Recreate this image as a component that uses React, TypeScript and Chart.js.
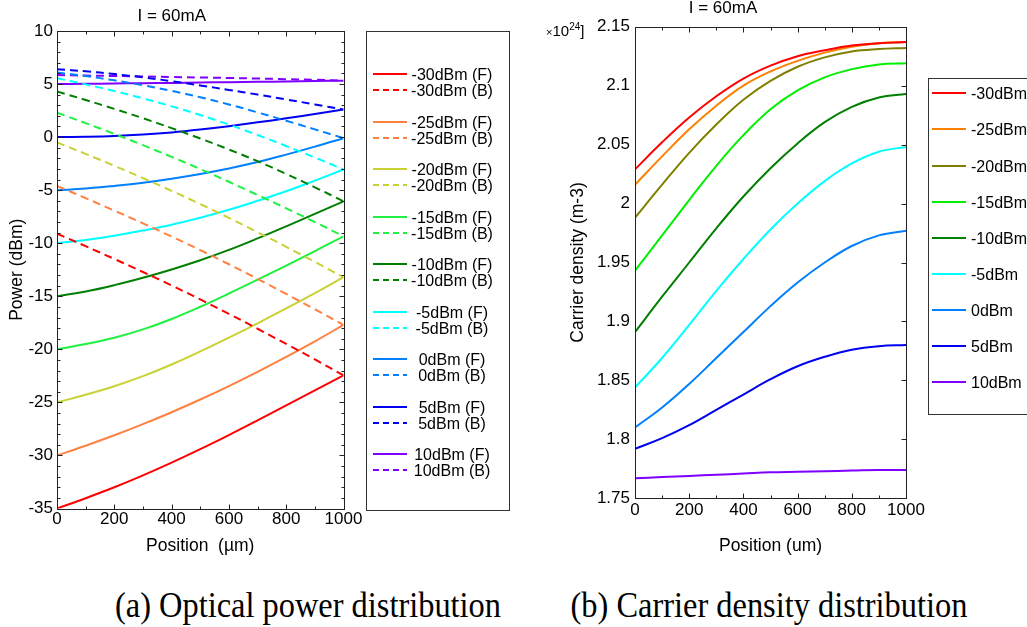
import React, { useEffect, useRef } from 'react';
import { Chart, registerables } from 'chart.js';

Chart.register(...registerables);

const FONT = "'Liberation Sans', Arial, Helvetica, sans-serif";

// Position along the device (µm)
const positions = [0, 100, 200, 300, 400, 500, 600, 700, 800, 900, 1000];

// Input power levels
const powerLabels = ['-30dBm', '-25dBm', '-20dBm', '-15dBm', '-10dBm', '-5dBm', '0dBm', '5dBm', '10dBm'];

// (a) Forward optical power (dBm)
const fwdM30 = [-35.0, -34.03, -33.0, -31.88, -30.68, -29.41, -28.08, -26.7, -25.29, -23.87, -22.45];
const fwdM25 = [-30.0, -29.08, -28.1, -27.05, -25.93, -24.73, -23.46, -22.12, -20.72, -19.25, -17.7];
const fwdM20 = [-25.0, -24.28, -23.48, -22.53, -21.43, -20.2, -18.9, -17.55, -16.15, -14.7, -13.2];
const fwdM15 = [-20.0, -19.5, -18.9, -18.12, -17.14, -15.99, -14.74, -13.44, -12.11, -10.74, -9.35];
const fwdM10 = [-15.0, -14.55, -13.95, -13.25, -12.47, -11.6, -10.63, -9.55, -8.41, -7.23, -6.05];
const fwdM5 = [-10.0, -9.7, -9.3, -8.8, -8.25, -7.6, -6.85, -6.0, -5.1, -4.1, -3.05];
const fwd0 = [-5.0, -4.85, -4.6, -4.3, -3.92, -3.47, -2.95, -2.35, -1.65, -0.9, -0.1];
const fwd5 = [0.0, 0.03, 0.1, 0.24, 0.44, 0.71, 1.03, 1.39, 1.77, 2.18, 2.6];
const fwd10 = [5.0, 5.02, 5.05, 5.08, 5.11, 5.14, 5.18, 5.21, 5.24, 5.28, 5.32];

// (a) Backward optical power (dBm)
const bwdM30 = [-9.1, -10.28, -11.48, -12.71, -13.98, -15.3, -16.66, -18.06, -19.49, -20.95, -22.45];
const bwdM25 = [-4.6, -5.75, -6.93, -8.13, -9.37, -10.65, -11.98, -13.36, -14.78, -16.22, -17.7];
const bwdM20 = [-0.5, -1.58, -2.7, -3.86, -5.06, -6.31, -7.61, -8.96, -10.34, -11.76, -13.2];
const bwdM15 = [2.3, 1.32, 0.3, -0.76, -1.86, -3.01, -4.21, -5.45, -6.71, -8.01, -9.35];
const bwdM10 = [4.3, 3.5, 2.66, 1.78, 0.85, -0.13, -1.17, -2.27, -3.47, -4.73, -6.05];
const bwdM5 = [5.55, 4.97, 4.34, 3.65, 2.9, 2.08, 1.18, 0.2, -0.84, -1.92, -3.05];
const bwd0 = [6.1, 5.75, 5.35, 4.89, 4.36, 3.76, 3.08, 2.33, 1.54, 0.73, -0.1];
const bwd5 = [6.4, 6.2, 5.94, 5.63, 5.27, 4.87, 4.45, 4.01, 3.55, 3.08, 2.6];
const bwd10 = [5.85, 5.8, 5.76, 5.72, 5.67, 5.62, 5.57, 5.52, 5.46, 5.4, 5.32];

// (b) Carrier density (x1e24 m-3)
const carM30 = [2.029, 2.052, 2.073, 2.091, 2.106, 2.117, 2.125, 2.130, 2.134, 2.136, 2.137];
const carM25 = [2.016, 2.040, 2.063, 2.083, 2.100, 2.112, 2.121, 2.128, 2.133, 2.136, 2.137];
const carM20 = [1.988, 2.016, 2.043, 2.067, 2.088, 2.104, 2.116, 2.124, 2.129, 2.131, 2.132];
const carM15 = [1.943, 1.973, 2.003, 2.032, 2.058, 2.080, 2.096, 2.107, 2.114, 2.118, 2.119];
const carM10 = [1.891, 1.921, 1.950, 1.979, 2.006, 2.030, 2.051, 2.069, 2.082, 2.090, 2.093];
const carM5 = [1.844, 1.869, 1.897, 1.926, 1.953, 1.978, 2.000, 2.019, 2.034, 2.044, 2.048];
const car0 = [1.810, 1.827, 1.847, 1.869, 1.891, 1.913, 1.933, 1.950, 1.964, 1.973, 1.977];
const car5 = [1.792, 1.801, 1.812, 1.825, 1.838, 1.851, 1.862, 1.870, 1.876, 1.879, 1.880];
const car10 = [1.767, 1.768, 1.769, 1.770, 1.771, 1.772, 1.7725, 1.773, 1.7735, 1.774, 1.774];

const forwardSeries = [fwdM30, fwdM25, fwdM20, fwdM15, fwdM10, fwdM5, fwd0, fwd5, fwd10];
const backwardSeries = [bwdM30, bwdM25, bwdM20, bwdM15, bwdM10, bwdM5, bwd0, bwd5, bwd10];
const carrierSeries = [carM30, carM25, carM20, carM15, carM10, carM5, car0, car5, car10];

const leftColors = ['#ff0000', '#ff8040', '#c8d232', '#20f040', '#007f00', '#00ffff', '#0080ff', '#0000f0', '#8000ff'];
const rightColors = ['#ff0000', '#ff8000', '#808000', '#00f000', '#007f00', '#00ffff', '#0080ff', '#0000f0', '#8000ff'];

const DASH = [8, 5];

const toPoints = (vals: number[]) => positions.map((x, i) => ({ x, y: vals[i] }));

const frameTicks = {
  id: 'frameTicks',
  afterDatasetsDraw(chart: any, _args: any, opts: any) {
    const { ctx, chartArea } = chart;
    const left = Math.round(chartArea.left) + 0.5;
    const right = Math.round(chartArea.right) + 0.5;
    const top = Math.round(chartArea.top) + 0.5;
    const bottom = Math.round(chartArea.bottom) + 0.5;
    const xs = chart.scales.x;
    const ys = chart.scales.y;
    ctx.save();
    ctx.strokeStyle = opts.color || '#222';
    ctx.lineWidth = 1;
    ctx.beginPath();
    for (const t of xs.ticks) {
      const major = t.label !== '' && t.label !== undefined;
      const len = major ? opts.major : opts.minor;
      const px = Math.round(xs.getPixelForValue(t.value)) + 0.5;
      ctx.moveTo(px, bottom);
      ctx.lineTo(px, bottom - len);
      if (opts.xTop) {
        ctx.moveTo(px, top);
        ctx.lineTo(px, top + len);
      }
    }
    for (const t of ys.ticks) {
      const major = t.label !== '' && t.label !== undefined;
      const len = major ? opts.major : opts.minor;
      const py = Math.round(ys.getPixelForValue(t.value)) + 0.5;
      if (opts.yLeft) {
        ctx.moveTo(left, py);
        ctx.lineTo(left + len, py);
      }
      if (opts.yRight) {
        ctx.moveTo(right, py);
        ctx.lineTo(right - len, py);
      }
    }
    ctx.stroke();
    ctx.strokeRect(left, top, right - left, bottom - top);
    ctx.restore();
  },
};

const legendRowStyle = (top: number, left: number, width: number, align: 'left' | 'center') => ({
  position: 'absolute' as const,
  top,
  left,
  width,
  height: 18,
  lineHeight: '18px',
  fontSize: 16,
  textAlign: align,
  whiteSpace: 'nowrap' as const,
  color: '#000',
});

function Sample({ x, y, color, dashed }: { x: number; y: number; color: string; dashed: boolean }) {
  return (
    <svg style={{ position: 'absolute', left: x, top: y - 3, overflow: 'visible' }} width={34} height={6}>
      <line x1={0} y1={3} x2={34} y2={3} stroke={color} strokeWidth={2} strokeDasharray={dashed ? '6 4' : undefined} />
    </svg>
  );
}

const captionStyle = (left: number) => ({
  position: 'absolute' as const,
  left,
  top: 584,
  width: 500,
  textAlign: 'center' as const,
  fontFamily: "'Liberation Serif', 'Times New Roman', serif",
  fontSize: 36,
  lineHeight: '42px',
  color: '#000',
  whiteSpace: 'nowrap' as const,
  transform: 'scaleX(0.9)',
  transformOrigin: '50% 50%',
});

export default function App() {
  const leftRef = useRef<HTMLCanvasElement>(null);
  const rightRef = useRef<HTMLCanvasElement>(null);

  useEffect(() => {
    Chart.defaults.font.family = FONT;
    Chart.defaults.color = '#000';

    const leftDatasets: any[] = [];
    powerLabels.forEach((p, i) => {
      leftDatasets.push({
        label: `${p} (F)`,
        data: toPoints(forwardSeries[i]),
        borderColor: leftColors[i],
        backgroundColor: leftColors[i],
        borderWidth: 2,
        pointRadius: 0,
        tension: 0.4,
      });
      leftDatasets.push({
        label: `${p} (B)`,
        data: toPoints(backwardSeries[i]),
        borderColor: leftColors[i],
        backgroundColor: leftColors[i],
        borderWidth: 2,
        borderDash: DASH,
        pointRadius: 0,
        tension: 0.4,
      });
    });

    const c1 = new Chart(leftRef.current!, {
      type: 'line',
      data: { datasets: leftDatasets },
      plugins: [frameTicks],
      options: {
        animation: false,
        responsive: false,
        devicePixelRatio: 1,
        layout: { padding: { left: 0, right: 44.5, top: 0, bottom: 0 } },
        plugins: {
          legend: { display: false },
          tooltip: { enabled: false },
          title: {
            display: true,
            text: 'I = 60mA',
            color: '#000',
            font: { size: 17, weight: 'normal' },
            padding: { top: 6.5, bottom: 4.1 },
          },
          frameTicks: { color: '#222', major: 5, minor: 3, xTop: true, yLeft: true, yRight: true },
        } as any,
        scales: {
          x: {
            type: 'linear',
            min: 0,
            max: 1000,
            grid: { display: false, drawTicks: false },
            border: { display: false },
            ticks: {
              stepSize: 100,
              autoSkip: false,
              maxRotation: 0,
              padding: 1,
              font: { size: 17 },
              callback: (v: any) => (Number(v) % 200 === 0 ? String(v) : ''),
            },
            title: { display: true, text: 'Position  (µm)', font: { size: 17.5 }, padding: { top: 0, bottom: 3.5 } },
            afterFit: (s: any) => {
              s.height = 51.5;
            },
          },
          y: {
            min: -35,
            max: 10,
            grid: { display: false, drawTicks: false },
            border: { display: false },
            ticks: {
              stepSize: 1,
              autoSkip: false,
              padding: 4,
              font: { size: 17 },
              callback: (v: any) => (Number(v) % 5 === 0 ? String(v) : ''),
            },
            title: { display: true, text: 'Power (dBm)', font: { size: 17.5 }, padding: { top: 7, bottom: 0 } },
            afterFit: (s: any) => {
              s.width = 57;
            },
          },
        },
      } as any,
    });

    const rightDatasets = powerLabels.map((p, i) => ({
      label: p,
      data: toPoints(carrierSeries[i]),
      borderColor: rightColors[i],
      backgroundColor: rightColors[i],
      borderWidth: 2,
      pointRadius: 0,
      tension: 0.4,
    }));

    const c2 = new Chart(rightRef.current!, {
      type: 'line',
      data: { datasets: rightDatasets as any },
      plugins: [frameTicks],
      options: {
        animation: false,
        responsive: false,
        devicePixelRatio: 1,
        layout: { padding: { left: 0, right: 104, top: 0, bottom: 0 } },
        plugins: {
          legend: { display: false },
          tooltip: { enabled: false },
          title: {
            display: true,
            text: 'I = 60mA',
            color: '#000',
            font: { size: 17, weight: 'normal' },
            padding: { top: -2, bottom: 8.3 },
          },
          frameTicks: { color: '#222', major: 5, minor: 3, xTop: true, yLeft: false, yRight: true },
        } as any,
        scales: {
          x: {
            type: 'linear',
            min: 0,
            max: 1000,
            grid: { display: false, drawTicks: false },
            border: { display: false },
            ticks: {
              stepSize: 100,
              autoSkip: false,
              maxRotation: 0,
              padding: 1.7,
              font: { size: 17 },
              callback: (v: any) => (Number(v) % 200 === 0 ? String(v) : ''),
            },
            title: { display: true, text: 'Position (um)', font: { size: 17.5 }, padding: { top: 0, bottom: 3.5 } },
            afterFit: (s: any) => {
              s.height = 61.7;
            },
          },
          y: {
            min: 1.75,
            max: 2.15,
            grid: { display: false, drawTicks: false },
            border: { display: false },
            ticks: {
              stepSize: 0.05,
              autoSkip: false,
              padding: 5,
              font: { size: 17 },
              callback: (v: any) => String(Math.round(Number(v) * 100) / 100),
            },
            title: { display: true, text: 'Carrier density (m-3)', font: { size: 17.5 }, padding: { top: 27.8, bottom: 0 } },
            afterFit: (s: any) => {
              s.width = 95;
            },
          },
        },
      } as any,
    });

    return () => {
      c1.destroy();
      c2.destroy();
    };
  }, []);

  const leftRowsF = powerLabels.map((_, i) => 75 + 47.5 * i);
  const rightRows = powerLabels.map((_, i) => 94.3 + 36.1 * i);

  return (
    <div
      style={{
        position: 'fixed',
        left: 0,
        top: 0,
        width: 1027,
        height: 627,
        background: '#fff',
        overflow: 'hidden',
        fontFamily: FONT,
      }}
    >
      <canvas ref={leftRef} width={388} height={560} style={{ position: 'absolute', left: 0, top: 0, width: 388, height: 560 }} />
      <canvas ref={rightRef} width={470} height={560} style={{ position: 'absolute', left: 540, top: 0, width: 470, height: 560 }} />

      {/* Left legend */}
      <div style={{ position: 'absolute', left: 366, top: 31, width: 142, height: 478, border: '1px solid #333' }} />
      {powerLabels.map((p, i) => (
        <React.Fragment key={'lf' + p}>
          <Sample x={373} y={leftRowsF[i] - 1} color={leftColors[i]} dashed={false} />
          <div style={legendRowStyle(leftRowsF[i] - 9, 410, 84, 'center')}>{`${p} (F)`}</div>
          <Sample x={373} y={leftRowsF[i] + 15} color={leftColors[i]} dashed={true} />
          <div style={legendRowStyle(leftRowsF[i] + 16 - 9, 410, 84, 'center')}>{`${p} (B)`}</div>
        </React.Fragment>
      ))}

      {/* Right legend */}
      <div style={{ position: 'absolute', left: 928, top: 78, width: 140, height: 335, border: '1px solid #333' }} />
      {powerLabels.map((p, i) => (
        <React.Fragment key={'r' + p}>
          <Sample x={932} y={rightRows[i] - 1} color={rightColors[i]} dashed={false} />
          <div style={legendRowStyle(rightRows[i] - 9, 971, 80, 'left')}>{p}</div>
        </React.Fragment>
      ))}

      {/* Exponent label */}
      <div style={{ position: 'absolute', left: 546, top: 22, fontSize: 15, lineHeight: '18px', color: '#000', whiteSpace: 'nowrap' }}>
        <span style={{ fontSize: 11 }}>×</span>10
        <sup style={{ fontSize: 10, verticalAlign: 'top', position: 'relative', top: -4 }}>24</sup>]
      </div>

      {/* Captions */}
      <div style={captionStyle(58)}>(a) Optical power distribution</div>
      <div style={captionStyle(518.5)}>(b) Carrier density distribution</div>
    </div>
  );
}
